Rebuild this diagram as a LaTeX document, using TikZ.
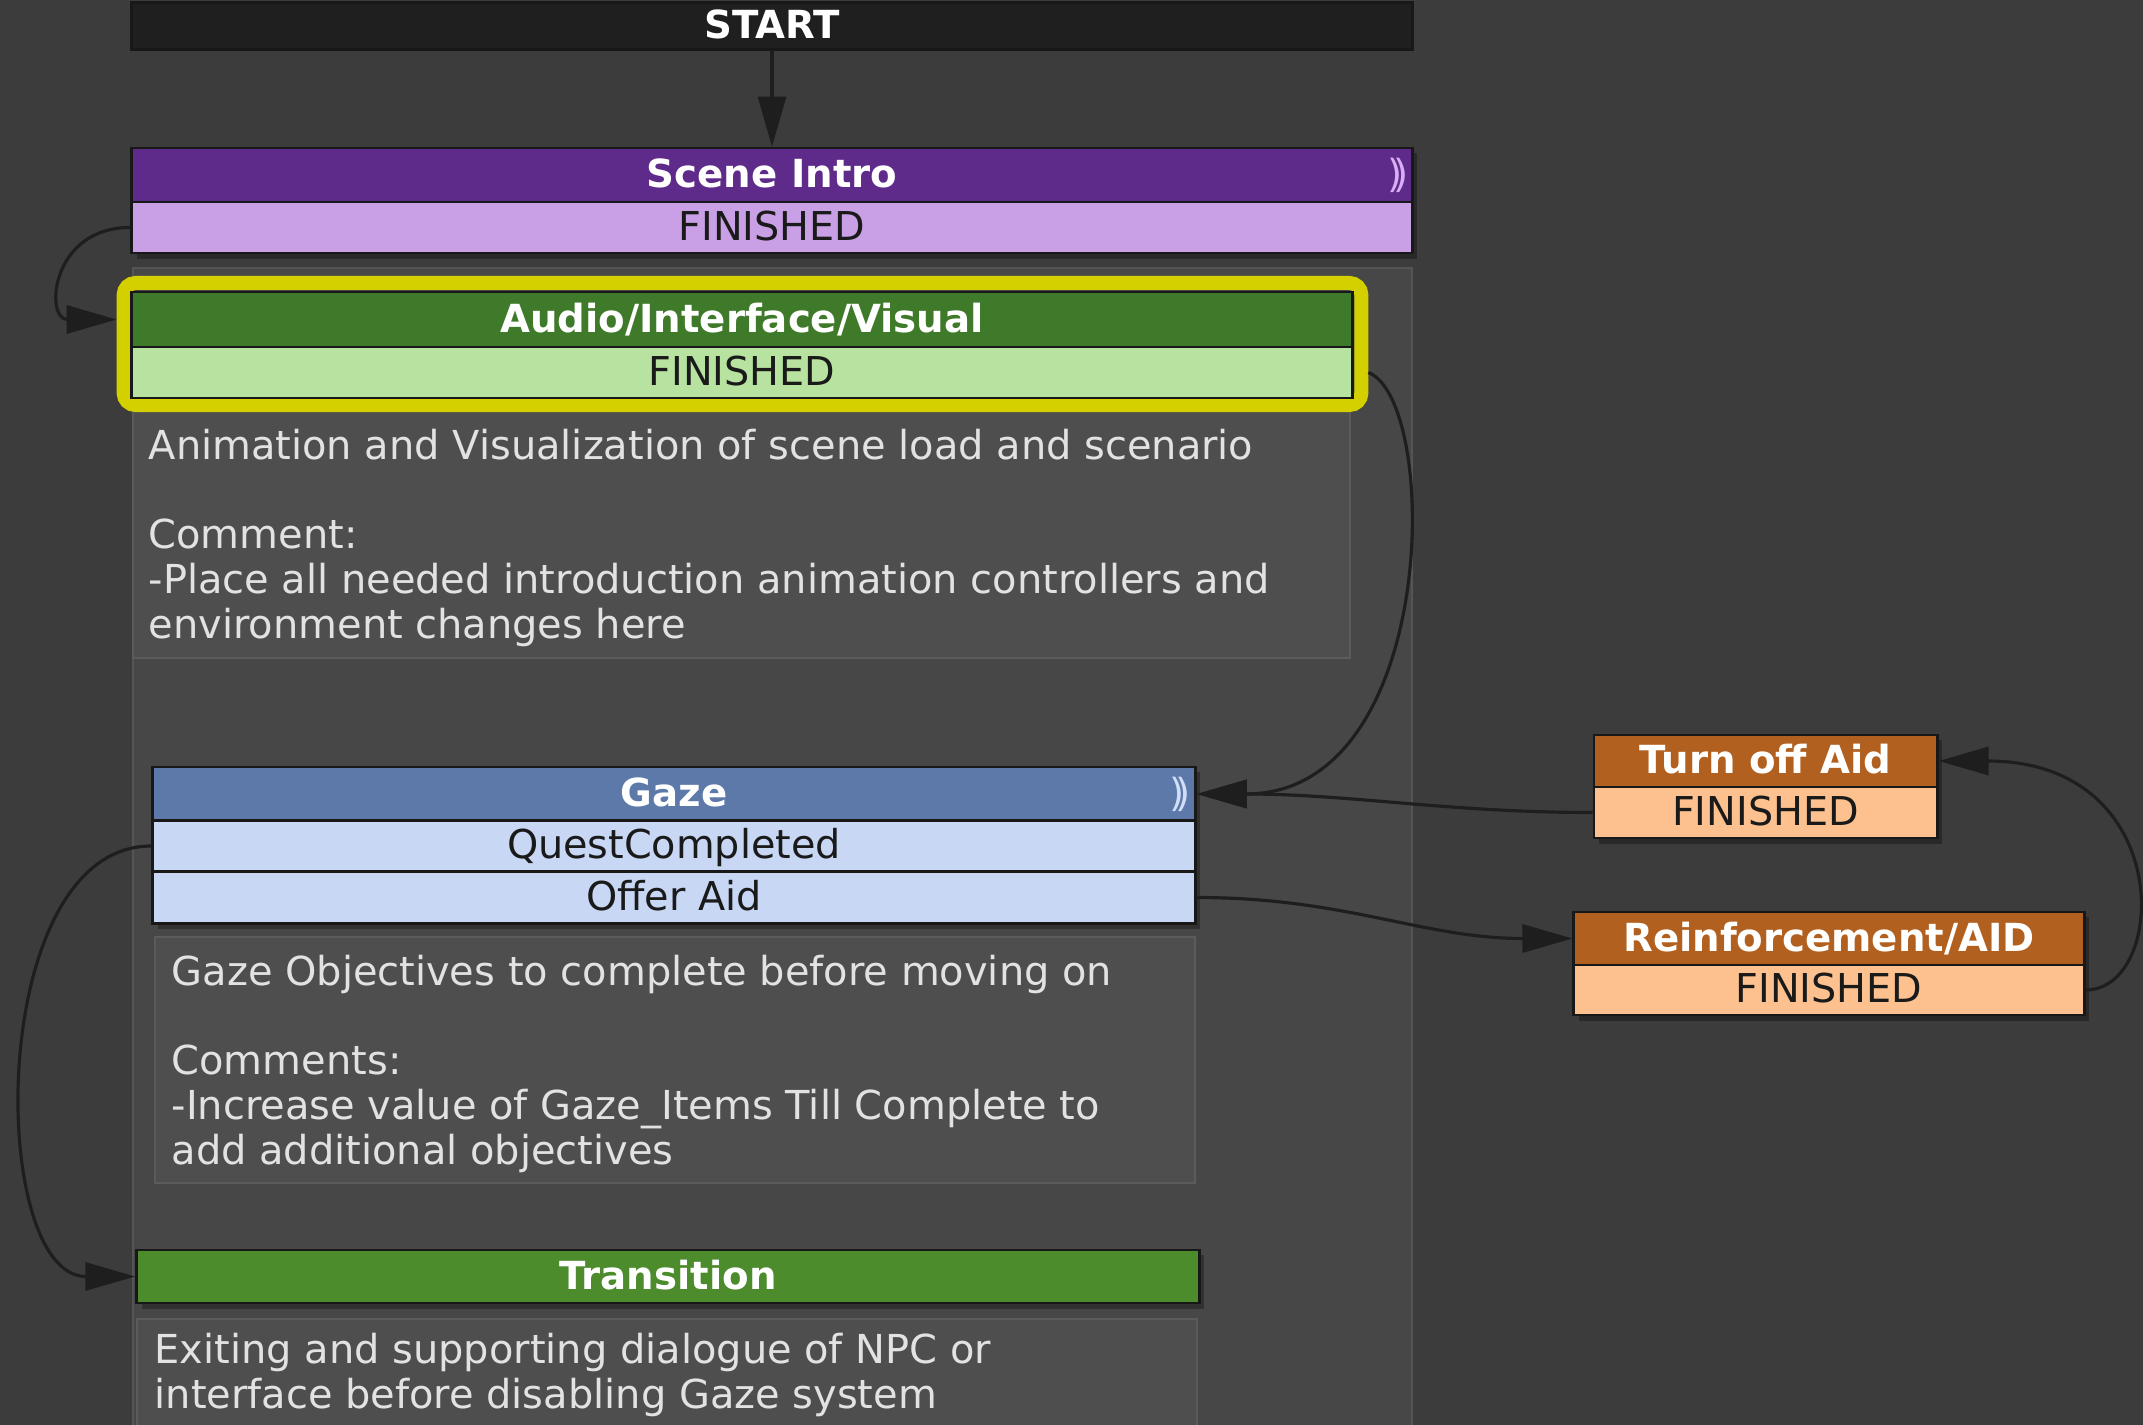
\documentclass[tikz,border=0pt]{standalone}
\usepackage{fontspec}
\setmainfont{DejaVu Sans}
\usetikzlibrary{arrows.meta,calc}
\definecolor{bgout}{HTML}{3C3C3C}
\definecolor{panel}{HTML}{474747}
\definecolor{panelline}{HTML}{555555}
\definecolor{descfill}{HTML}{4E4E4E}
\definecolor{descline}{HTML}{5B5B5B}
\definecolor{desctext}{HTML}{E2E2E2}
\definecolor{linec}{HTML}{181818}
\definecolor{arrowc}{HTML}{1E1E1E}
\definecolor{starthdr}{HTML}{1F1F1F}
\definecolor{sihdr}{HTML}{5F2B8B}
\definecolor{sirow}{HTML}{C9A0E5}
\definecolor{siicon}{HTML}{D9AEF5}
\definecolor{avhdr}{HTML}{3F7A2B}
\definecolor{avrow}{HTML}{B7E2A0}
\definecolor{selyel}{HTML}{D4D000}
\definecolor{ghdr}{HTML}{5D79AA}
\definecolor{grow}{HTML}{C7D7F4}
\definecolor{gicon}{HTML}{D0DEF8}
\definecolor{trhdr}{HTML}{4C8C2C}
\definecolor{ohdr}{HTML}{B2601F}
\definecolor{orow}{HTML}{FCC18E}
\definecolor{rowtext}{HTML}{1A1A1A}
\begin{document}
\begin{tikzpicture}[x=0.01cm,y=-0.01cm,
  hdr/.style={draw=linec, line width=0.8pt, inner sep=0pt, text=white,
    font=\fontsize{11pt}{13pt}\selectfont\bfseries, text height=0.73em, text depth=0pt},
  rowbox/.style={draw=linec, line width=0.8pt, inner sep=0pt, text=rowtext,
    font=\fontsize{11.3pt}{13pt}\selectfont, text height=0.73em, text depth=0pt},
  descbox/.style={draw=descline, line width=0.8pt, fill=descfill},
  desctxt/.style={anchor=base west, align=left, inner sep=0pt, text=desctext,
    font=\fontsize{11.35pt}{12.7pt}\selectfont},
  icon/.style={inner sep=0pt, font=\fontsize{11pt}{11pt}\selectfont},
  shadowbox/.style={fill=black, opacity=0.3},
  conn/.style={draw=arrowc, line width=0.9pt, -{Triangle[length=0.5cm,width=0.28cm]}}]
\useasboundingbox[fill=bgout] (0,0) rectangle (2143,1425);
% group panel
\fill[panel] (133,268) rectangle (1412,1440);
\draw[panelline, line width=0.8pt] (133,1440) -- (133,268) -- (1412,268) -- (1412,1440);
% shadows
\fill[shadowbox] (137,153) rectangle (1417,259);
\fill[shadowbox] (158,772) rectangle (1200,929);
\fill[shadowbox] (142,1255) rectangle (1204,1309);
\fill[shadowbox] (1599,740) rectangle (1942,844);
\fill[shadowbox] (1579,917) rectangle (2089,1021);
% description boxes
\draw[descbox] (133,410) rectangle (1350,658);
\draw[descbox] (155,937) rectangle (1195,1183);
\draw[descbox] (137,1319) rectangle (1197,1440);
% START
\node[hdr, fill=starthdr, minimum width=12.8cm, minimum height=0.47cm] (start) at (772,26) {START};
% Scene Intro
\node[hdr, fill=sihdr, minimum width=12.8cm, minimum height=0.54cm] (sihdr) at (772,175) {Scene Intro};
\node[rowbox, fill=sirow, minimum width=12.8cm, minimum height=0.51cm] (sirow) at (772,227.5) {FINISHED};
\node[icon, text=siicon] (siicon) at (1398,175) {)\kern-0.25em)};
% Audio/Interface/Visual
\node[draw=selyel, line width=0.14cm, rounded corners=0.12cm, minimum width=12.37cm, minimum height=1.22cm, inner sep=0pt] (avsel) at (742.5,344) {};
\node[hdr, fill=avhdr, minimum width=12.2cm, minimum height=0.55cm] (avhdr) at (742,319.5) {Audio/Interface/Visual};
\node[rowbox, fill=avrow, minimum width=12.2cm, minimum height=0.51cm] (avrow) at (742,372.5) {FINISHED};
\node[desctxt] (avdesc) at (148,638) {Animation and Visualization of scene load and scenario\\[12.7pt]Comment:\\-Place all needed introduction animation controllers and\\environment changes here};
% Gaze
\node[hdr, fill=ghdr, minimum width=10.42cm, minimum height=0.54cm] (ghdr) at (674,794) {Gaze};
\node[rowbox, fill=grow, minimum width=10.42cm, minimum height=0.51cm] (gqc) at (674,846) {QuestCompleted};
\node[rowbox, fill=grow, minimum width=10.42cm, minimum height=0.52cm] (goa) at (674,897.5) {Offer Aid};
\node[icon, text=gicon] (gicon) at (1180,794) {)\kern-0.25em)};
\node[desctxt] (gdesc) at (171,1164) {Gaze Objectives to complete before moving on\\[12.7pt]Comments:\\-Increase value of Gaze\_Items Till Complete to\\add additional objectives};
% Transition
\node[hdr, fill=trhdr, minimum width=10.62cm, minimum height=0.53cm] (trhdr) at (668,1276.5) {Transition};
\node[desctxt] (trdesc) at (154,1408) {Exiting and supporting dialogue of NPC or\\interface before disabling Gaze system};
% Turn off Aid
\node[hdr, fill=ohdr, minimum width=3.43cm, minimum height=0.52cm] (tofhdr) at (1765.5,761) {Turn off Aid};
\node[rowbox, fill=orow, minimum width=3.43cm, minimum height=0.51cm] (tofrow) at (1765.5,812.5) {FINISHED};
% Reinforcement/AID
\node[hdr, fill=ohdr, minimum width=5.10cm, minimum height=0.53cm] (rhdr) at (1829,938.5) {Reinforcement/AID};
\node[rowbox, fill=orow, minimum width=5.10cm, minimum height=0.50cm] (rrow) at (1829,990) {FINISHED};
% connectors
\draw[conn] (start) -- (sihdr);
\draw[conn] (sirow.west) .. controls +(-80,0) and +(-72,0) .. (avsel.west |- avhdr.center);
\draw[conn] (avrow.east -| avsel.east) .. controls +(72,28) and +(243,0) .. (ghdr.east);
\draw[conn] (tofrow.west) .. controls +(-144,0) and +(153,0) .. (ghdr.east);
\draw[conn] (goa.east) .. controls +(150,0) and +(-150,0) .. (rhdr.west);
\draw[conn] (rrow.east) .. controls +(83,0) and +(238,0) .. (tofhdr.east);
\draw[conn] (gqc.west) .. controls +(-166,0) and +(-148,0) .. (trhdr.west);
\end{tikzpicture}
\end{document}
